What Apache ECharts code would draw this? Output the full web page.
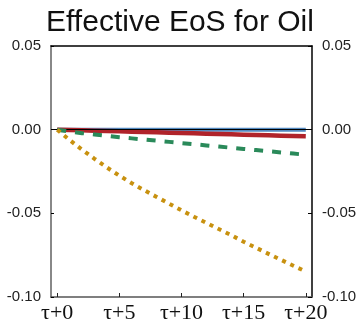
<!DOCTYPE html>
<html>
<head>
<meta charset="utf-8">
<style>
  html, body { margin: 0; padding: 0; background: #fff; }
  #main { width: 360px; height: 328px; }
</style>
<script src="https://cdn.jsdelivr.net/npm/echarts@6/dist/echarts.min.js"></script>
</head>
<body>
<div id="main"></div>
<script>
// horizon steps tau+0 .. tau+20
var steps = [0,1,2,3,4,5,6,7,8,9,10,11,12,13,14,15,16,17,18,19,20];
var tickSteps = [0,5,10,15,20];

// values
var blueVals  = [0,0,0,0,0,0,0,0,0,0,0,0,0,0,0,0,0,0,0,0,0];
var redVals   = [0,-0.0002,-0.0004,-0.0006,-0.0008,-0.0010,-0.0012,-0.0014,-0.0016,-0.0018,-0.0020,
                 -0.0022,-0.0024,-0.0026,-0.0028,-0.0030,-0.0032,-0.0034,-0.0036,-0.0038,-0.0040];
var greenVals = [0,-0.0011,-0.0021,-0.0029,-0.0037,-0.0045,-0.0052,-0.0059,-0.0066,-0.0073,-0.0080,
                 -0.0087,-0.0094,-0.0101,-0.0108,-0.0115,-0.0122,-0.0129,-0.0136,-0.0143,-0.0150];
var goldVals  = [0,-0.0062,-0.0120,-0.0174,-0.0226,-0.0275,-0.0320,-0.0362,-0.0402,-0.0442,-0.0482,
                 -0.0520,-0.0557,-0.0594,-0.0630,-0.0670,-0.0706,-0.0742,-0.0778,-0.0813,-0.0848];

function pairs(vals){
    var out = [];
    for (var i = 0; i < steps.length; i++) out.push([steps[i], vals[i]]);
    return out;
}

var myChart = echarts.init(document.getElementById('main'));

var option = {
    animation: false,
    title: {
        text: 'Effective EoS for Oil',
        left: 'center',
        top: 3,
        textStyle: { fontFamily: 'Liberation Sans', fontSize: 30, fontWeight: 'normal', color: '#111' }
    },
    grid: { left: 51, right: 48, top: 46, bottom: 31 },
    xAxis: [{
        type: 'value',
        min: -0.5, max: 20.5,
        position: 'bottom',
        axisLine: { onZero: false, lineStyle: { color: '#555', width: 1.5 } },
        axisTick: { show: true, inside: true, length: 4, customValues: tickSteps, lineStyle: { color: '#222' } },
        axisLabel: {
            customValues: tickSteps,
            formatter: function(v){ return 'τ+' + v; },
            fontFamily: 'Liberation Serif', fontSize: 22, color: '#111', margin: 5
        },
        splitLine: { show: false }
    }, {
        type: 'value',
        min: -0.5, max: 20.5,
        position: 'top',
        axisLine: { show: true, onZero: false, lineStyle: { color: '#000', width: 1.5 } },
        axisTick: { show: false },
        axisLabel: { show: false },
        splitLine: { show: false }
    }],
    yAxis: [{
        type: 'value',
        min: -0.10, max: 0.05, interval: 0.05,
        position: 'left',
        axisLine: { show: true, onZero: false, lineStyle: { color: '#888', width: 2 } },
        axisTick: { show: true, inside: true, length: 3, lineStyle: { color: '#000' } },
        axisLabel: {
            formatter: function(v){ return v.toFixed(2); },
            fontFamily: 'Liberation Sans', fontSize: 15, color: '#222', margin: 10
        },
        splitLine: { show: false }
    }, {
        type: 'value',
        min: -0.10, max: 0.05, interval: 0.05,
        position: 'right',
        axisLine: { show: true, onZero: false, lineStyle: { color: '#000', width: 1.5 } },
        axisTick: { show: true, inside: true, length: 4, lineStyle: { color: '#000' } },
        axisLabel: {
            formatter: function(v){ return v.toFixed(2); },
            fontFamily: 'Liberation Sans', fontSize: 15, color: '#222', margin: 10
        },
        splitLine: { show: false }
    }],
    series: [
        {
            name: 'blue', type: 'line', data: pairs(blueVals), showSymbol: false, z: 2,
            lineStyle: { color: '#5288bf', width: 4 }
        },
        {
            name: 'zero', type: 'line', data: [], z: 3,
            markLine: {
                silent: true, symbol: 'none', label: { show: false },
                lineStyle: { color: '#000', width: 1, type: 'solid' },
                data: [{ yAxis: 0 }]
            }
        },
        {
            name: 'red', type: 'line', data: pairs(redVals), showSymbol: false, z: 4,
            lineStyle: { color: '#b0232a', width: 4.5 }
        },
        {
            name: 'green', type: 'line', data: pairs(greenVals), showSymbol: false, z: 5,
            lineStyle: { color: '#2a8a5a', width: 4, type: [9, 9], cap: 'butt' }
        },
        {
            name: 'gold', type: 'line', data: pairs(goldVals), showSymbol: false, z: 6,
            lineStyle: { color: '#c8910f', width: 4, type: [4, 5], cap: 'butt' }
        }
    ]
};
myChart.setOption(option);
</script>
</body>
</html>
